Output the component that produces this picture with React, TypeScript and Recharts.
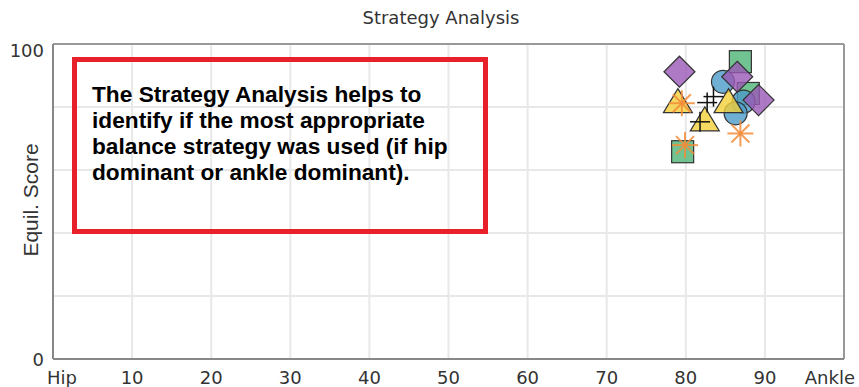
import React from 'react';
import { ScatterChart, Scatter, XAxis, YAxis, CartesianGrid, ReferenceLine } from 'recharts';

const xTicks = [0, 10, 20, 30, 40, 50, 60, 70, 80, 90, 100];
const xTickLabels: Record<number, string> = { 0: 'Hip', 100: 'Ankle' };
const yTicks = [0, 20, 40, 60, 80, 100];
const yLabelledTicks = [0, 100];

const titleText = 'Strategy Analysis';
const yAxisTitle = 'Equil. Score';
const noteLines = [
  'The Strategy Analysis helps to',
  'identify if the most appropriate',
  'balance strategy was used (if hip',
  'dominant or ankle dominant).',
];

const greenSquares = [{ x: 79.6, y: 65.8 }, { x: 86.9, y: 94.4 }, { x: 87.9, y: 84.3 }];
const blueCircles = [{ x: 84.7, y: 88.0 }, { x: 87.3, y: 81.7 }, { x: 86.3, y: 78.0 }];
const purpleDiamonds = [{ x: 79.2, y: 91.2 }, { x: 86.5, y: 89.6 }, { x: 89.2, y: 82.2 }];
const yellowTriangles = [{ x: 79.0, y: 81.7 }, { x: 82.4, y: 75.9 }, { x: 85.4, y: 81.7 }];
const orangeAsterisks = [{ x: 79.5, y: 81.2 }, { x: 79.9, y: 67.9 }, { x: 86.9, y: 71.6 }];
const blackCrosses = [{ x: 81.8, y: 75.3 }, { x: 82.7, y: 81.4 }, { x: 83.5, y: 83.3 }];

const TICK_FONT = "'DejaVu Sans', Verdana, sans-serif";
const STROKE = '#333';

const SquareShape = (p: any) => (
  <rect x={p.cx - 11} y={p.cy - 11} width={22} height={22} fill="#4fb477" fillOpacity={0.8} stroke={STROKE} strokeWidth={1.2} />
);
const CircleShape = (p: any) => (
  <circle cx={p.cx} cy={p.cy} r={11.5} fill="#4b9bc8" fillOpacity={0.8} stroke={STROKE} strokeWidth={1.2} />
);
const DiamondShape = (p: any) => {
  const r = 15.5;
  return (
    <polygon
      points={`${p.cx},${p.cy - r} ${p.cx + r},${p.cy} ${p.cx},${p.cy + r} ${p.cx - r},${p.cy}`}
      fill="#9b59b6" fillOpacity={0.8} stroke={STROKE} strokeWidth={1.2}
    />
  );
};
const TriangleShape = (p: any) => (
  <polygon
    points={`${p.cx},${p.cy - 13} ${p.cx + 14.5},${p.cy + 11} ${p.cx - 14.5},${p.cy + 11}`}
    fill="#f2cf3a" fillOpacity={0.8} stroke={STROKE} strokeWidth={1.2}
  />
);
const AsteriskShape = (p: any) => {
  const h = 13;
  const d = 9;
  return (
    <g stroke="#f28c38" strokeOpacity={0.85} strokeWidth={2}>
      <line x1={p.cx - h} y1={p.cy} x2={p.cx + h} y2={p.cy} />
      <line x1={p.cx} y1={p.cy - h} x2={p.cx} y2={p.cy + h} />
      <line x1={p.cx - d} y1={p.cy - d} x2={p.cx + d} y2={p.cy + d} />
      <line x1={p.cx - d} y1={p.cy + d} x2={p.cx + d} y2={p.cy - d} />
    </g>
  );
};
const CrossShape = (p: any) => {
  const h = 10;
  return (
    <g stroke="#111" strokeWidth={1.5}>
      <line x1={p.cx - h} y1={p.cy} x2={p.cx + h} y2={p.cy} />
      <line x1={p.cx} y1={p.cy - h} x2={p.cx} y2={p.cy + h} />
    </g>
  );
};

const XTick = (props: any) => {
  const { x, y, payload } = props;
  const v = payload.value;
  const label = xTickLabels[v] ?? String(v);
  const anchor = v === 0 ? 'start' : v === 100 ? 'end' : 'middle';
  const dx = v === 0 ? -6 : v === 100 ? 11 : 0;
  return (
    <text x={x + dx} y={y} dy={23} textAnchor={anchor} fontFamily={TICK_FONT} fontSize={18} fill="#333">
      {label}
    </text>
  );
};

const YTick = (props: any) => {
  const { x, y, payload } = props;
  const v = payload.value;
  if (!yLabelledTicks.includes(v)) return <g />;
  return (
    <text x={x - 7} y={y} dy={v === 100 ? 13 : 7} textAnchor="end" fontFamily={TICK_FONT} fontSize={18} fill="#333">
      {String(v)}
    </text>
  );
};

export default function App() {
  return (
    <div style={{ position: 'absolute', left: 0, top: 0, width: 859, height: 387, background: '#fff' }}>
      <ScatterChart width={859} height={387} margin={{ top: 44, right: 15, bottom: 0, left: 8 }}>
        <CartesianGrid stroke="#e8e8e8" strokeWidth={2} />
        <XAxis
          type="number" dataKey="x" domain={[0, 100]} ticks={xTicks} interval={0}
          height={28} tickLine={false} tickSize={0} tick={<XTick />}
          axisLine={{ stroke: '#888', strokeWidth: 2 }} allowDataOverflow
        />
        <YAxis
          type="number" dataKey="y" domain={[0, 100]} ticks={yTicks} interval={0}
          width={45} tickLine={false} tickSize={0} tick={<YTick />}
          axisLine={{ stroke: '#888', strokeWidth: 2 }} allowDataOverflow
        />
        <ReferenceLine y={100} stroke="#999" strokeWidth={2} />
        <ReferenceLine x={100} stroke="#999" strokeWidth={2} />
        <Scatter data={greenSquares} shape={<SquareShape />} isAnimationActive={false} />
        <Scatter data={blueCircles} shape={<CircleShape />} isAnimationActive={false} />
        <Scatter data={purpleDiamonds} shape={<DiamondShape />} isAnimationActive={false} />
        <Scatter data={yellowTriangles} shape={<TriangleShape />} isAnimationActive={false} />
        <Scatter data={orangeAsterisks} shape={<AsteriskShape />} isAnimationActive={false} />
        <Scatter data={blackCrosses} shape={<CrossShape />} isAnimationActive={false} />
      </ScatterChart>
      <div
        style={{
          position: 'absolute', left: 0, top: 6, width: 882, textAlign: 'center',
          fontFamily: TICK_FONT, fontSize: 18, color: '#333', lineHeight: '24px',
        }}
      >
        {titleText}
      </div>
      <div
        style={{
          position: 'absolute', left: 31, top: 200, transform: 'translate(-50%, -50%) rotate(-90deg)',
          fontFamily: "'Liberation Sans', Arial, sans-serif", fontSize: 21, color: '#333', whiteSpace: 'nowrap',
        }}
      >
        {yAxisTitle}
      </div>
      <div
        style={{
          position: 'absolute', left: 72, top: 57, width: 416, height: 177, boxSizing: 'border-box',
          border: '5px solid #e8202a',
        }}
      />
      <div
        style={{
          position: 'absolute', left: 92, top: 81, fontFamily: "'Liberation Sans', Arial, sans-serif",
          fontWeight: 'bold', fontSize: 22.7, lineHeight: '26px', color: '#000', whiteSpace: 'pre',
        }}
      >
        {noteLines.join('\n')}
      </div>
    </div>
  );
}
